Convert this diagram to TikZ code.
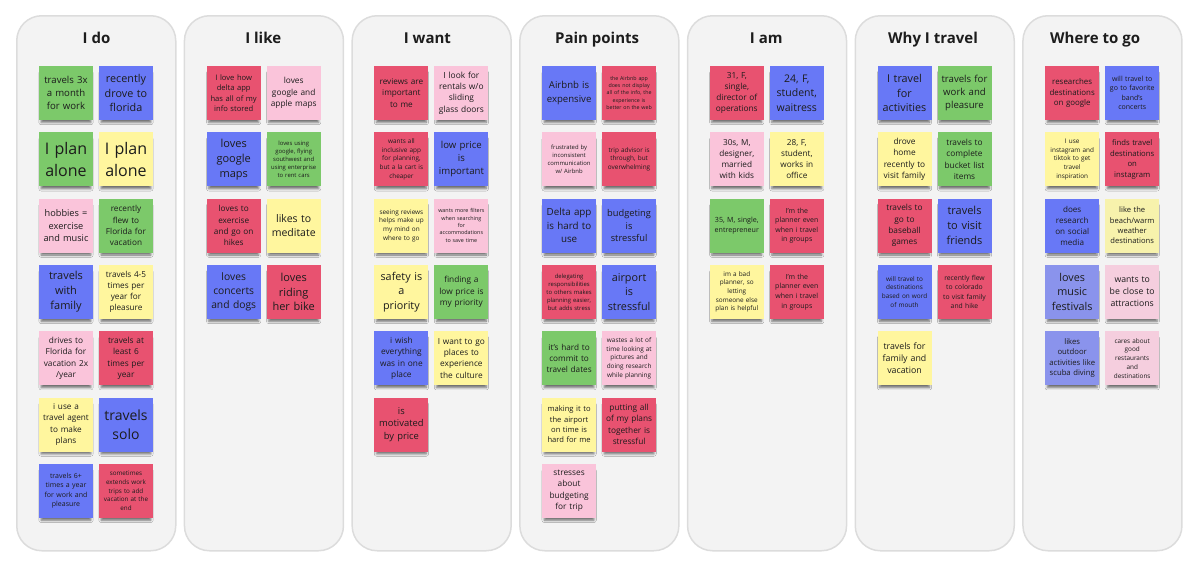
\documentclass[tikz,border=0pt]{standalone}
\usepackage{fontspec}
\setmainfont{Open Sans}
\usetikzlibrary{shadows,shadows.blur}
\definecolor{sgreen}{RGB}{124,201,106}
\definecolor{sblue}{RGB}{104,120,246}
\definecolor{spink}{RGB}{250,196,218}
\definecolor{syellow}{RGB}{255,246,158}
\definecolor{sred}{RGB}{232,82,112}
\definecolor{lblue}{RGB}{138,147,236}
\definecolor{lpink}{RGB}{245,206,222}
\definecolor{lyellow}{RGB}{247,242,172}
\definecolor{colfill}{RGB}{243,243,243}
\definecolor{colline}{RGB}{220,220,220}
\definecolor{ink}{RGB}{28,28,28}
\newcommand\fsz[1]{\pgfmathsetmacro\fszb{1.36*#1}\fontsize{#1}{\fszb}\selectfont}
\tikzset{
  panel/.style={draw=colline,line width=1.5pt,fill=colfill,rounded corners=25pt,minimum width=159pt,minimum height=535pt,inner sep=0pt},
  title/.style={font=\bfseries\fontsize{15}{18}\selectfont,text=ink,anchor=base},
  sticky/.style={fill=#1,text=ink,minimum width=54pt,minimum height=54pt,text width=52pt,inner xsep=1pt,inner ysep=0pt,align=center,
    blur shadow={shadow xshift=0pt,shadow yshift=-5pt,shadow scale=0.92,shadow opacity=55,shadow blur radius=2.5pt}}
}
\newcommand\stk[7]{\node[sticky=#5,font=\fsz{#6}] (#1) at ({66+167.7*#2+60*#4},{93+66.3*#3}) {#7};}
\begin{document}
\begin{tikzpicture}[x=1pt,y=-1pt]
\useasboundingbox (0,0) rectangle (1193,565);
\foreach \k in {0,...,6}{\node[panel,anchor=north west] (p\k) at ({16+167.7*\k},15) {};}
\node[title] (t0) at ({96.5+167.7*0},43.5) {I do};
\node[title] (t1) at ({95.5+167.7*1},43.5) {I like};
\node[title] (t2) at ({92+167.7*2},43.5) {I want};
\node[title] (t3) at ({94+167.7*3},43.5) {Pain points};
\node[title] (t4) at ({95.5+167.7*4},43.5) {I am};
\node[title] (t5) at ({94.5+167.7*5},43.5) {Why I travel};
\node[title] (t6) at ({89+167.7*6},43.5) {Where to go};
% I do
\stk{a1}{0}{0}{0}{sgreen}{9.6}{travels 3x\\a month\\for work}
\stk{a2}{0}{0}{1}{sblue}{10.8}{recently\\drove to\\florida}
\stk{a3}{0}{1}{0}{sgreen}{16}{I plan\\alone}
\stk{a4}{0}{1}{1}{syellow}{16}{I plan\\alone}
\stk{a5}{0}{2}{0}{spink}{9.2}{hobbies =\\exercise\\and music}
\stk{a6}{0}{2}{1}{sgreen}{8.2}{recently\\flew to\\Florida for\\vacation}
\stk{a7}{0}{3}{0}{sblue}{11}{travels\\with\\family}
\stk{a8}{0}{3}{1}{syellow}{8.2}{travels 4-5\\times per\\year for\\pleasure}
\stk{a9}{0}{4}{0}{spink}{8.3}{drives to\\Florida for\\vacation 2x\\/year}
\stk{a10}{0}{4}{1}{sred}{8.3}{travels at\\least 6\\times per\\year}
\stk{a11}{0}{5}{0}{syellow}{8.2}{i use a\\travel agent\\to make\\plans}
\stk{a12}{0}{5}{1}{sblue}{14}{travels\\solo}
\stk{a13}{0}{6}{0}{sblue}{7}{travels 6+\\times a year\\for work and\\pleasure}
\stk{a14}{0}{6}{1}{sred}{6.3}{sometimes\\extends work\\trips to add\\vacation at the\\end}
% I like
\stk{b1}{1}{0}{0}{sred}{7.6}{I love how\\delta app\\has all of my\\info stored}
\stk{b2}{1}{0}{1}{spink}{8.3}{loves\\google and\\apple maps}
\stk{b3}{1}{1}{0}{sblue}{11}{loves\\google\\maps}
\stk{b4}{1}{1}{1}{sgreen}{5.9}{loves using\\google, flying\\southwest and\\using enterprise\\to rent cars}
\stk{b5}{1}{2}{0}{sred}{8.2}{loves to\\exercise\\and go on\\hikes}
\stk{b6}{1}{2}{1}{syellow}{10.5}{likes to\\meditate}
\stk{b7}{1}{3}{0}{sblue}{10.3}{loves\\concerts\\and dogs}
\stk{b8}{1}{3}{1}{sred}{11}{loves\\riding\\her bike}
% I want
\stk{c1}{2}{0}{0}{sred}{8.2}{reviews are\\important\\to me}
\stk{c2}{2}{0}{1}{spink}{8.4}{I look for\\rentals w/o\\sliding\\glass doors}
\stk{c3}{2}{1}{0}{sred}{6.4}{wants all\\inclusive app\\for planning,\\but a la cart is\\cheaper}
\stk{c4}{2}{1}{1}{sblue}{9.6}{low price\\is\\important}
\stk{c5}{2}{2}{0}{syellow}{6.4}{seeing reviews\\helps make up\\my mind on\\where to go}
\stk{c6}{2}{2}{1}{spink}{5.4}{wants more filters\\when searching\\for\\accommodations\\to save time}
\stk{c7}{2}{3}{0}{syellow}{10.8}{safety is\\a\\priority}
\stk{c8}{2}{3}{1}{sgreen}{8.3}{finding a\\low price is\\my priority}
\stk{c9}{2}{4}{0}{sblue}{8.3}{i wish\\everything\\was in one\\place}
\stk{c10}{2}{4}{1}{syellow}{8.3}{I want to go\\places to\\experience\\the culture}
\stk{c11}{2}{5}{0}{sred}{9.4}{is\\motivated\\by price}
% Pain points
\stk{d1}{3}{0}{0}{sblue}{9.6}{Airbnb is\\expensive}
\stk{d2}{3}{0}{1}{sred}{5.3}{the Airbnb app\\does not display\\all of the info, the\\experience is\\better on the web}
\stk{d3}{3}{1}{0}{spink}{5.9}{frustrated by\\inconsistent\\communication\\w/ Airbnb}
\stk{d4}{3}{1}{1}{sred}{6.4}{trip advisor is\\through, but\\overwhelming}
\stk{d5}{3}{2}{0}{sblue}{9.8}{Delta app\\is hard to\\use}
\stk{d6}{3}{2}{1}{sblue}{9.3}{budgeting\\is\\stressful}
\stk{d7}{3}{3}{0}{sred}{5.9}{delegating\\responsibilities\\to others makes\\planning easier,\\but adds stress}
\stk{d8}{3}{3}{1}{sblue}{10.8}{airport\\is\\stressful}
\stk{d9}{3}{4}{0}{sgreen}{8.2}{it's hard to\\commit to\\travel dates}
\stk{d10}{3}{4}{1}{spink}{6.4}{wastes a lot of\\time looking at\\pictures and\\doing research\\while planning}
\stk{d11}{3}{5}{0}{syellow}{7.6}{making it to\\the airport\\on time is\\hard for me}
\stk{d12}{3}{5}{1}{sred}{8.3}{putting all\\of my plans\\together is\\stressful}
\stk{d13}{3}{6}{0}{spink}{8.3}{stresses\\about\\budgeting\\for trip}
% I am
\stk{e1}{4}{0}{0}{sred}{8.3}{31, F,\\single,\\director of\\operations}
\stk{e2}{4}{0}{1}{sblue}{10.5}{24, F,\\student,\\waitress}
\stk{e3}{4}{1}{0}{spink}{8.2}{30s, M,\\designer,\\married\\with kids}
\stk{e4}{4}{1}{1}{syellow}{8.2}{28, F,\\student,\\works in\\office}
\stk{e5}{4}{2}{0}{sgreen}{7.1}{35, M, single,\\entrepreneur}
\stk{e6}{4}{2}{1}{sred}{7}{I'm the\\planner even\\when i travel\\in groups}
\stk{e7}{4}{3}{0}{syellow}{6.4}{im a bad\\planner, so\\letting\\someone else\\plan is helpful}
\stk{e8}{4}{3}{1}{sred}{7}{I'm the\\planner even\\when i travel\\in groups}
% Why I travel
\stk{f1}{5}{0}{0}{sblue}{10.8}{I travel\\for\\activities}
\stk{f2}{5}{0}{1}{sgreen}{9.6}{travels for\\work and\\pleasure}
\stk{f3}{5}{1}{0}{syellow}{8.3}{drove\\home\\recently to\\visit family}
\stk{f4}{5}{1}{1}{sgreen}{8.3}{travels to\\complete\\bucket list\\items}
\stk{f5}{5}{2}{0}{sred}{8.3}{travels to\\go to\\baseball\\games}
\stk{f6}{5}{2}{1}{sblue}{11}{travels\\to visit\\friends}
\stk{f7}{5}{3}{0}{sblue}{6.4}{will travel to\\destinations\\based on word\\of mouth}
\stk{f8}{5}{3}{1}{sred}{6.8}{recently flew\\to colorado\\to visit family\\and hike}
\stk{f9}{5}{4}{0}{syellow}{8.8}{travels for\\family and\\vacation}
% Where to go
\stk{g1}{6}{0}{0}{sred}{7.9}{researches\\destinations\\on google}
\stk{g2}{6}{0}{1}{sblue}{7}{will travel to\\go to favorite\\band's\\concerts}
\stk{g3}{6}{1}{0}{syellow}{6.4}{I use\\instagram and\\tiktok to get\\travel\\inspiration}
\stk{g4}{6}{1}{1}{sred}{7.7}{finds travel\\destinations\\on\\instagram}
\stk{g5}{6}{2}{0}{sblue}{8.1}{does\\research\\on social\\media}
\stk{g6}{6}{2}{1}{lyellow}{7.6}{like the\\beach/warm\\weather\\destinations}
\stk{g7}{6}{3}{0}{lblue}{10.8}{loves\\music\\festivals}
\stk{g8}{6}{3}{1}{lpink}{8.7}{wants to\\be close to\\attractions}
\stk{g9}{6}{4}{0}{lblue}{7.7}{likes\\outdoor\\activities like\\scuba diving}
\stk{g10}{6}{4}{1}{lpink}{6.4}{cares about\\good\\restaurants\\and\\destinations}
\end{tikzpicture}
\end{document}
